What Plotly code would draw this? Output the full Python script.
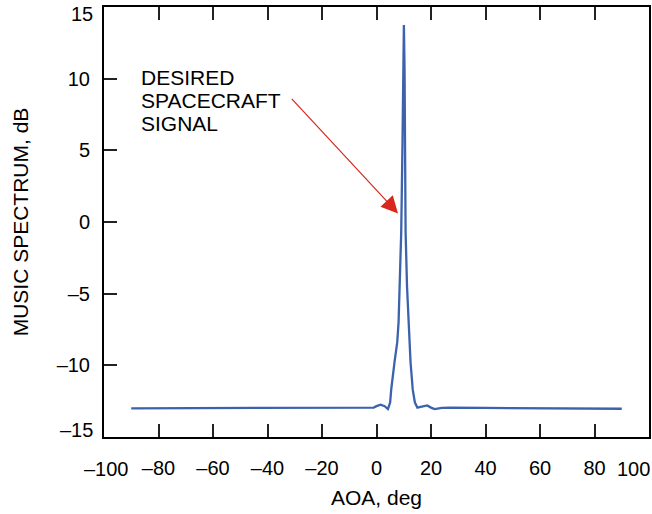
import plotly.graph_objects as go

# Data
aoa = [-90, -60, -30, -10, -3, -1, 0, 1.5, 3, 4.2, 5.0, 5.4, 6.6, 7.6, 8.1, 8.6, 9.07,
       9.5, 9.8, 10.05, 10.3, 10.5, 10.68, 11.2, 11.8, 12.5, 13.3, 14.1, 15.0, 16.5,
       18.6, 20.0, 21.3, 24, 27, 40, 60, 90]
music_db = [-13.0, -13.0, -13.0, -13.0, -13.0, -12.95, -12.85, -12.75, -12.85, -13.05,
            -12.6, -11.7, -9.8, -8.4, -7.0, -4.0, -0.7,
            5.0, 10.5, 13.75, 10.5, 5.0, -0.7, -4.5, -7.5, -9.8, -11.7, -12.6, -12.95, -12.9,
            -12.8, -12.95, -13.05, -12.97, -12.95, -12.97, -13.0, -13.03]

x_tickvals = [-100, -80, -60, -40, -20, 0, 20, 40, 60, 80, 100]
x_ticktext = ["", "–80", "–60", "–40", "–20", "0", "20", "40", "60", "80", ""]
y_tickvals = [-15, -10, -5, 0, 5, 10, 15]
y_ticktext = ["", "–10", "–5", "0", "5", "10", ""]
callout_lines = ["DESIRED", "SPACECRAFT", "SIGNAL"]

FONT = "Liberation Sans, Arial, Helvetica, sans-serif"
FS = 20
FT = 21

fig = go.Figure()
fig.add_trace(go.Scatter(x=aoa, y=music_db, mode="lines",
                         line=dict(color="#3c62ae", width=2.3), showlegend=False))

axis_common = dict(showgrid=False, zeroline=False, showline=True, linecolor="black",
                   linewidth=2, ticks="inside", ticklen=13, tickwidth=1.5,
                   tickcolor="#222", tickfont=dict(family=FONT, size=FS, color="black"))

fig.update_xaxes(range=[-100, 100], tickvals=x_tickvals, ticktext=x_ticktext,
                 mirror="ticks", ticklabelstandoff=12,
                 title=dict(text="AOA, deg", font=dict(family=FONT, size=FT, color="black"),
                            standoff=12),
                 **axis_common)
fig.update_yaxes(range=[-15, 15], tickvals=y_tickvals, ticktext=y_ticktext,
                 mirror=True, ticklabelstandoff=8,
                 title=dict(text="MUSIC SPECTRUM, dB", font=dict(family=FONT, size=FT, color="black"),
                            standoff=22),
                 **axis_common)

# edge tick labels, offset inward as in the reference
edge = dict(showarrow=False, font=dict(family=FONT, size=FS, color="black"))
fig.add_annotation(x=-100, y=0, xref="x", yref="paper", text="–100", yanchor="top",
                   xanchor="center", xshift=2, yshift=-19, **edge)
fig.add_annotation(x=100, y=0, xref="x", yref="paper", text="100", yanchor="top",
                   xanchor="right", xshift=3, yshift=-19, **edge)
fig.add_annotation(x=0, y=15, xref="paper", yref="y", text="15", xanchor="right",
                   yanchor="middle", xshift=-9, yshift=-7, **edge)
fig.add_annotation(x=0, y=-15, xref="paper", yref="y", text="–15", xanchor="right",
                   yanchor="middle", xshift=-9, yshift=7, **edge)

# callout text and arrow
for i, line in enumerate(callout_lines):
    fig.add_annotation(x=-87.2, y=10.1 - i * 1.6, xref="x", yref="y", text=line,
                       align="left", xanchor="left", yanchor="middle", showarrow=False,
                       font=dict(family=FONT, size=FT, color="black"))
fig.add_annotation(x=7.9, y=0.6, ax=-31.6, ay=8.7, xref="x", yref="y", axref="x", ayref="y",
                   text="", showarrow=True, arrowhead=2, arrowsize=2.8, arrowwidth=1.2,
                   arrowcolor="#d8281e")

fig.update_layout(width=652, height=514, margin=dict(l=104, r=1, t=7, b=77),
                  plot_bgcolor="white", paper_bgcolor="white")

fig.write_html("out.html")
